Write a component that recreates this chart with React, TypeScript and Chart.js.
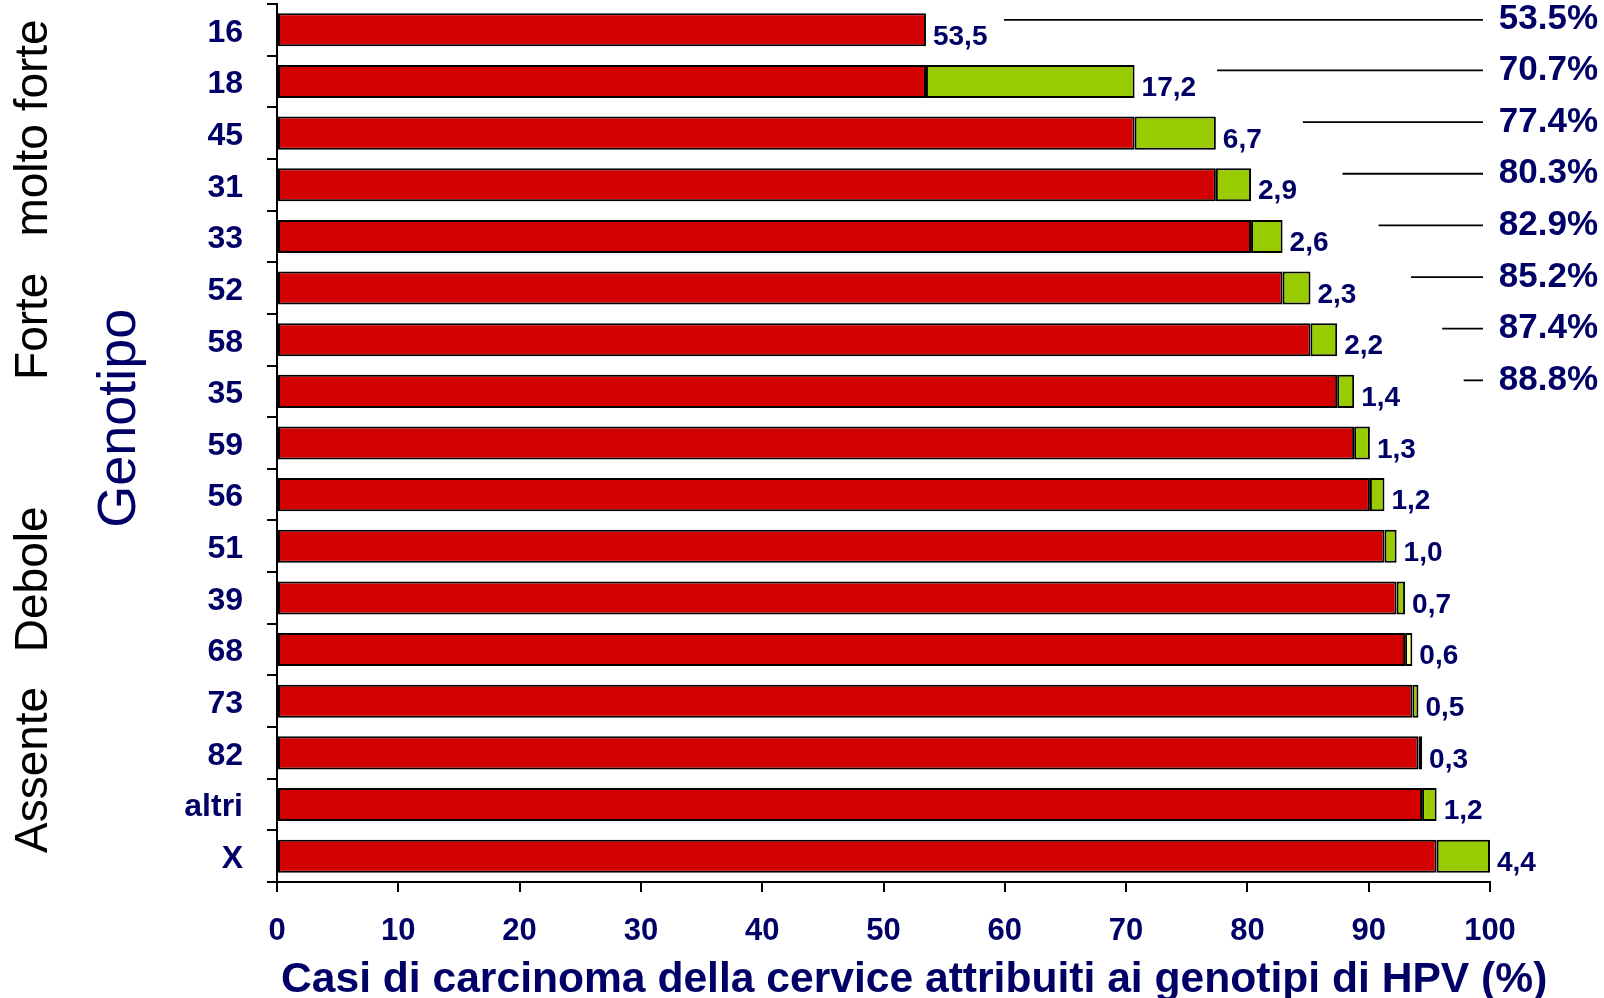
import React, { useEffect, useRef } from 'react';
import { Chart, registerables } from 'chart.js';

Chart.register(...registerables);

// ---- data ----
const categories = ['16', '18', '45', '31', '33', '52', '58', '35', '59', '56', '51', '39', '68', '73', '82', 'altri', 'X'];
const baseValues = [53.5, 53.5, 70.7, 77.4, 80.3, 82.9, 85.2, 87.4, 88.8, 90.1, 91.3, 92.3, 93.0, 93.6, 94.1, 94.4, 95.6];
const addedValues: (number | null)[] = [null, 17.2, 6.7, 2.9, 2.6, 2.3, 2.2, 1.4, 1.3, 1.2, 1.0, 0.7, 0.6, 0.5, 0.3, 1.2, 4.4];
const shownValues = [53.5, 17.2, 6.7, 2.9, 2.6, 2.3, 2.2, 1.4, 1.3, 1.2, 1.0, 0.7, 0.6, 0.5, 0.3, 1.2, 4.4];
const cumulativePct = [53.5, 70.7, 77.4, 80.3, 82.9, 85.2, 87.4, 88.8];
const groupLabels = ['molto forte', 'Forte', 'Debole', 'Assente'];
const axisTitleY = 'Genotipo';
const axisTitleX = 'Casi di carcinoma della cervice attribuiti ai genotipi di HPV (%)';

// ---- styles ----
const FONT = "'Liberation Sans', Arial, sans-serif";
const NAVY = '#000066';
const RED = '#D20000';
const GREEN = '#99CC00';
const PALE = '#FFFF99';
const addedColors = categories.map((c) => (c === '68' ? PALE : GREEN));
const groupAnchors = [1.9, 5.74, 10.64, 14.33];

const annotate = {
  id: 'annotate',
  afterDatasetsDraw(chart: any) {
    const { ctx, scales } = chart;
    const x = scales.x;
    const y = scales.y;
    const meta0 = chart.getDatasetMeta(0);
    const meta1 = chart.getDatasetMeta(1);
    ctx.save();

    // value labels at bar ends
    ctx.font = `bold 28px ${FONT}`;
    ctx.fillStyle = NAVY;
    ctx.textAlign = 'left';
    ctx.textBaseline = 'middle';
    shownValues.forEach((v, i) => {
      const el = addedValues[i] != null ? meta1.data[i] : meta0.data[i];
      ctx.fillText(v.toFixed(1).replace('.', ','), el.x + 7, el.y + 7);
    });

    // cumulative percentages with leader lines
    ctx.font = `bold 35px ${FONT}`;
    ctx.textAlign = 'right';
    cumulativePct.forEach((v, i) => {
      const yc = y.getPixelForValue(i) - (i === 0 ? 10 : 11);
      const start = x.getPixelForValue(v) + 78 + 4.5 * i;
      const end = x.right - 7;
      ctx.strokeStyle = '#000';
      ctx.lineWidth = 1.8;
      ctx.beginPath();
      ctx.moveTo(start, yc);
      ctx.lineTo(end, yc);
      ctx.stroke();
      ctx.fillStyle = NAVY;
      ctx.fillText(`${v.toFixed(1)}%`, chart.width - 6, yc);
    });

    // x axis title (drawn here so it may run past the plot width, as in the reference)
    ctx.textAlign = 'left';
    ctx.textBaseline = 'alphabetic';
    ctx.font = `bold 42.6px ${FONT}`;
    ctx.fillStyle = NAVY;
    ctx.fillText(axisTitleX, x.left + 4, 992);

    // rotated group labels
    ctx.textAlign = 'center';
    ctx.textBaseline = 'middle';
    groupLabels.forEach((lab, i) => {
      const py = y.getPixelForValue(groupAnchors[i]);
      ctx.save();
      ctx.translate(34, py);
      ctx.rotate(-Math.PI / 2);
      ctx.font = `46px ${FONT}`;
      ctx.fillStyle = '#000';
      ctx.fillText(lab, 0, 0);
      ctx.restore();
    });

    // rotated axis title
    ctx.save();
    ctx.translate(120, y.getPixelForValue(7.52));
    ctx.rotate(-Math.PI / 2);
    ctx.font = `54px ${FONT}`;
    ctx.fillStyle = NAVY;
    ctx.fillText(axisTitleY, 0, 0);
    ctx.restore();

    ctx.restore();
  },
};

export default function App() {
  const ref = useRef<HTMLCanvasElement>(null);

  useEffect(() => {
    if (!ref.current) return;
    const chart = new Chart(ref.current, {
      type: 'bar',
      data: {
        labels: categories,
        datasets: [
          {
            data: baseValues,
            backgroundColor: RED,
            borderColor: '#000',
            borderWidth: 2,
            borderSkipped: false,
            barPercentage: 0.64,
            categoryPercentage: 1,
          },
          {
            data: addedValues,
            backgroundColor: addedColors,
            borderColor: '#000',
            borderWidth: 2,
            borderSkipped: false,
            barPercentage: 0.64,
            categoryPercentage: 1,
          },
        ],
      },
      options: {
        indexAxis: 'y',
        responsive: false,
        animation: false,
        devicePixelRatio: 1,
        layout: { padding: { left: 0, right: 114, top: 4, bottom: 0 } },
        plugins: { legend: { display: false }, tooltip: { enabled: false } },
        scales: {
          x: {
            stacked: true,
            min: 0,
            max: 100,
            ticks: {
              stepSize: 10,
              color: NAVY,
              font: { family: FONT, size: 31, weight: 'bold', lineHeight: 1.2 },
              padding: 21,
            },
            grid: {
              display: true,
              drawOnChartArea: false,
              drawTicks: true,
              tickLength: 10,
              color: '#000',
              lineWidth: 2,
            },
            border: { display: true, color: '#000', width: 2 },
            title: { display: false },
            afterFit: (s: any) => {
              s.height = 116;
              s.paddingLeft = 0;
              s.paddingRight = 0;
            },
          },
          y: {
            stacked: true,
            ticks: {
              color: NAVY,
              font: { family: FONT, size: 32, weight: 'bold', lineHeight: 1.2 },
              padding: 24,
              labelOffset: 3,
            },
            grid: {
              display: true,
              offset: true,
              drawOnChartArea: false,
              drawTicks: true,
              tickLength: 10,
              color: '#000',
              lineWidth: 2,
            },
            border: { display: true, color: '#000', width: 2 },
            afterFit: (s: any) => {
              s.width = 277;
              s.paddingTop = 0;
              s.paddingBottom = 0;
            },
          },
        },
      } as any,
      plugins: [annotate],
    });
    return () => chart.destroy();
  }, []);

  return (
    <div style={{ position: 'fixed', left: 0, top: 0, width: 1604, height: 998, background: '#fff' }}>
      <canvas ref={ref} width={1604} height={998} style={{ display: 'block', width: 1604, height: 998 }} />
    </div>
  );
}
